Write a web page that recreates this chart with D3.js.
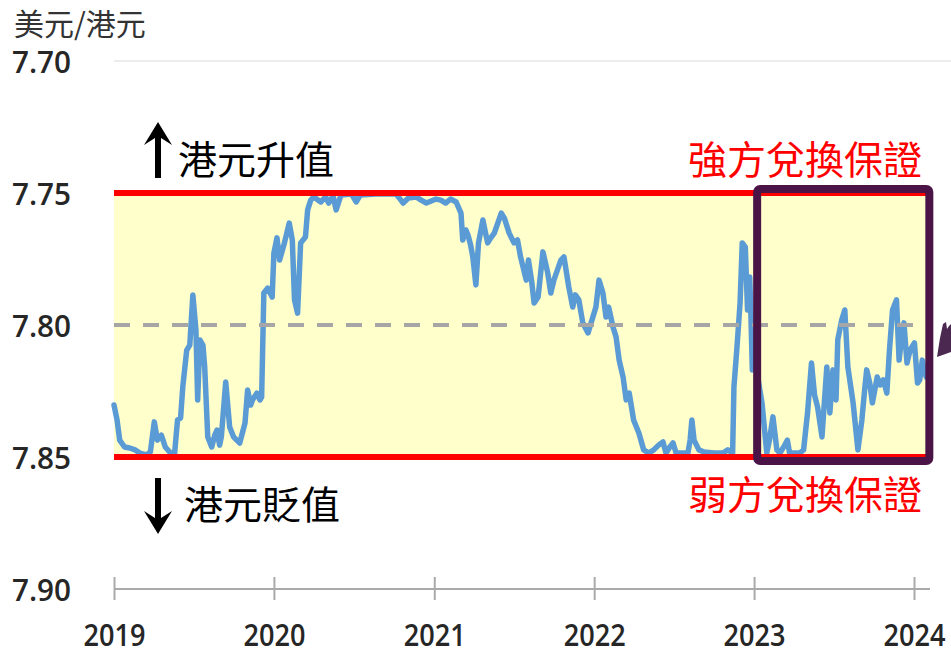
<!DOCTYPE html>
<html><head><meta charset="utf-8">
<script src="https://cdn.jsdelivr.net/npm/d3@7"></script>
<style>html,body{margin:0;padding:0;background:#fff;overflow:hidden}</style>
</head><body>
<svg id="c" width="951" height="650"></svg>
<script>
const dates = ["2019-01-01","2019-01-08","2019-01-14","2019-01-25","2019-02-06","2019-02-18","2019-03-01","2019-03-16","2019-03-25","2019-04-03","2019-04-10","2019-04-19","2019-04-28","2019-05-08","2019-05-19","2019-05-26","2019-06-02","2019-06-07","2019-06-16","2019-06-23","2019-06-30","2019-07-07","2019-07-11","2019-07-16","2019-07-23","2019-07-27","2019-08-03","2019-08-12","2019-08-19","2019-08-24","2019-08-30","2019-09-03","2019-09-13","2019-09-22","2019-10-01","2019-10-08","2019-10-15","2019-10-27","2019-11-02","2019-11-09","2019-11-13","2019-11-23","2019-11-30","2019-12-04","2019-12-09","2019-12-18","2019-12-28","2020-01-01","2020-01-08","2020-01-14","2020-01-25","2020-02-05","2020-02-12","2020-02-17","2020-02-24","2020-03-02","2020-03-13","2020-03-18","2020-03-25","2020-04-01","2020-04-17","2020-04-28","2020-05-05","2020-05-15","2020-05-22","2020-06-02","2020-06-26","2020-07-07","2020-07-16","2020-08-21","2020-10-06","2020-10-17","2020-10-22","2020-11-03","2020-11-21","2020-12-02","2020-12-14","2021-01-05","2021-01-16","2021-01-27","2021-02-07","2021-02-20","2021-03-03","2021-03-07","2021-03-14","2021-03-19","2021-03-25","2021-03-30","2021-04-06","2021-04-12","2021-04-22","2021-04-29","2021-05-03","2021-05-10","2021-05-18","2021-06-03","2021-06-10","2021-06-21","2021-07-02","2021-07-10","2021-07-17","2021-07-30","2021-08-04","2021-08-11","2021-08-17","2021-08-26","2021-09-06","2021-09-13","2021-09-17","2021-09-24","2021-10-01","2021-10-17","2021-10-24","2021-11-04","2021-11-13","2021-11-19","2021-11-27","2021-12-06","2021-12-18","2021-12-29","2022-01-05","2022-01-12","2022-01-21","2022-01-28","2022-02-03","2022-02-13","2022-02-20","2022-02-27","2022-03-08","2022-03-15","2022-03-22","2022-04-01","2022-04-13","2022-04-24","2022-05-06","2022-05-17","2022-05-28","2022-06-07","2022-06-14","2022-06-21","2022-06-30","2022-07-07","2022-07-23","2022-08-03","2022-08-08","2022-08-12","2022-08-17","2022-08-28","2022-09-09","2022-10-01","2022-10-22","2022-11-02","2022-11-13","2022-11-16","2022-11-23","2022-11-30","2022-12-05","2022-12-12","2022-12-17","2022-12-22","2022-12-24","2022-12-28","2023-01-03","2023-01-19","2023-01-30","2023-02-05","2023-02-13","2023-02-22","2023-03-01","2023-03-12","2023-03-18","2023-03-23","2023-04-15","2023-04-24","2023-05-03","2023-05-12","2023-05-19","2023-05-26","2023-06-05","2023-06-16","2023-06-23","2023-06-30","2023-07-07","2023-07-11","2023-07-20","2023-07-27","2023-08-03","2023-08-15","2023-08-26","2023-09-04","2023-09-11","2023-09-15","2023-09-22","2023-09-28","2023-10-09","2023-10-16","2023-10-23","2023-10-31","2023-11-06","2023-11-13","2023-11-22","2023-11-28","2023-12-05","2023-12-09","2023-12-16","2023-12-23","2024-01-02","2024-01-09","2024-01-14","2024-01-20","2024-01-25","2024-01-29"];
const rates = [7.8303,7.8360,7.8436,7.8462,7.8466,7.8473,7.8485,7.8492,7.8481,7.8367,7.8436,7.8417,7.8462,7.8481,7.8492,7.8360,7.8352,7.8235,7.8095,7.8076,7.7886,7.8019,7.8284,7.8057,7.8076,7.8159,7.8424,7.8462,7.8417,7.8398,7.8455,7.8424,7.8216,7.8386,7.8424,7.8436,7.8447,7.8371,7.8246,7.8303,7.8284,7.8258,7.8284,7.8273,7.7879,7.7860,7.7894,7.7727,7.7670,7.7754,7.7689,7.7614,7.7678,7.7905,7.7955,7.7689,7.7667,7.7564,7.7527,7.7515,7.7534,7.7515,7.7538,7.7511,7.7564,7.7508,7.7504,7.7534,7.7508,7.7504,7.7504,7.7527,7.7538,7.7519,7.7515,7.7527,7.7538,7.7523,7.7527,7.7538,7.7523,7.7534,7.7576,7.7678,7.7640,7.7659,7.7697,7.7742,7.7848,7.7689,7.7602,7.7659,7.7689,7.7670,7.7652,7.7576,7.7595,7.7652,7.7689,7.7678,7.7742,7.7830,7.7754,7.7830,7.7917,7.7894,7.7723,7.7773,7.7803,7.7879,7.7830,7.7754,7.7742,7.7856,7.7932,7.7886,7.7905,7.7992,7.8030,7.7970,7.7932,7.7830,7.7879,7.7970,7.7932,7.8008,7.8045,7.8133,7.8197,7.8284,7.8258,7.8360,7.8409,7.8473,7.8485,7.8473,7.8455,7.8443,7.8485,7.8466,7.8447,7.8485,7.8485,7.8485,7.8436,7.8360,7.8436,7.8473,7.8481,7.8485,7.8485,7.8473,7.8485,7.8235,7.8083,7.7917,7.7689,7.7705,7.7943,7.7818,7.7917,7.8170,7.8133,7.8295,7.8485,7.8436,7.8348,7.8473,7.8485,7.8455,7.8436,7.8485,7.8485,7.8473,7.8333,7.8144,7.8265,7.8311,7.8424,7.8159,7.8333,7.8170,7.8284,7.8057,7.7981,7.7943,7.8159,7.8295,7.8473,7.8360,7.8235,7.8170,7.8220,7.8295,7.8197,7.8227,7.8208,7.8258,7.8095,7.7943,7.7905,7.8133,7.8030,7.7992,7.8144,7.8095,7.8068,7.8220,7.8208,7.8133,7.8180,7.8197];
const yTicks = [7.70, 7.75, 7.80, 7.85, 7.90];
const xTickYears = ["2019","2020","2021","2022","2023","2024"];
const strongSide = 7.75, weakSide = 7.85, midRate = 7.80;
const bandEnd = "2024-02-04";
const boxStart = "2023-01-08", boxEnd = "2024-02-05";
const titleText = "美元/港元";
const upText = "港元升值", downText = "港元貶值";
const strongText = "強方兌換保證", weakText = "弱方兌換保證";

const parse = d3.timeParse("%Y-%m-%d");
const data = dates.map((d,i)=>({date: parse(d), v: rates[i]}));
const svg = d3.select("#c");
const x = d3.scaleTime().domain([parse("2019-01-01"), parse("2024-01-01")]).range([114, 914]);
const y = d3.scaleLinear().domain([7.70, 7.90]).range([61, 589]);
const numFont = "'Open Sans','Noto Sans',sans-serif";
const cjk = "'Noto Sans CJK TC','Noto Sans CJK SC',sans-serif";

// title
svg.append("text").attr("x",14).attr("y",35).attr("font-family",cjk).attr("font-size",30)
  .attr("fill","#333").text(titleText);

// top gridline
svg.append("line").attr("x1",114).attr("x2",951).attr("y1",y(7.70)).attr("y2",y(7.70))
  .attr("stroke","#d9d9d9").attr("stroke-width",1);

// band
const xL = x(parse("2019-01-01")), xR = x(parse(bandEnd));
svg.append("rect").attr("x",xL).attr("y",y(strongSide)).attr("width",xR-xL)
  .attr("height",y(weakSide)-y(strongSide)).attr("fill","#FFFFCC");

// line
const line = d3.line().x(d=>x(d.date)).y(d=>y(d.v));
svg.append("path").datum(data).attr("d",line).attr("fill","none")
  .attr("stroke","#5B9BD5").attr("stroke-width",5.5).attr("stroke-linejoin","round").attr("stroke-linecap","round");

// dashed mid
svg.append("line").attr("x1",xL).attr("x2",921).attr("y1",y(midRate)).attr("y2",y(midRate))
  .attr("stroke","#a6a6a6").attr("stroke-width",4).attr("stroke-dasharray","16,13");

// red bounds
[strongSide, weakSide].forEach(v=>{
  svg.append("line").attr("x1",xL).attr("x2",xR).attr("y1",y(v)).attr("y2",y(v))
    .attr("stroke","#FF0000").attr("stroke-width",6);
});

// purple box
const bx1 = x(parse(boxStart)), bx2 = x(parse(boxEnd));
svg.append("rect").attr("x",bx1).attr("y",y(strongSide)-4).attr("width",bx2-bx1)
  .attr("height",y(weakSide)-y(strongSide)+8).attr("rx",3)
  .attr("fill","none").attr("stroke","#4B1447").attr("stroke-width",8);

// partial arrow at right edge
svg.append("path").attr("d","M937,357 L940,338 L943,324 L946,322 L947,329 L949,326 L951,324 L951,352 Z")
  .attr("fill","#4a2850");

// y axis labels
const yAxis = d3.axisLeft(y).tickValues(yTicks).tickFormat(d3.format(".2f")).tickSize(0);
const gy = svg.append("g").call(yAxis);
gy.select(".domain").remove();
gy.selectAll("text").attr("x",12).attr("dy","0.36em").attr("text-anchor","start")
  .attr("font-family",numFont).attr("font-size",31).attr("font-weight",600).attr("fill","#262626")
  .attr("textLength",59).attr("lengthAdjust","spacingAndGlyphs");

// x axis
const xAxis = d3.axisBottom(x).tickValues(xTickYears.map(s=>parse(s+"-01-01")))
  .tickFormat(d3.timeFormat("%Y")).tickSize(11).tickPadding(0);
const gx = svg.append("g").attr("transform",`translate(0,${y(7.90)})`).call(xAxis);
gx.select(".domain").attr("d",`M${xL},0H930`).attr("stroke","#aaaaaa").attr("stroke-width",2);
gx.selectAll(".tick line").attr("y1",-12).attr("y2",11).attr("stroke","#aaaaaa").attr("stroke-width",2);
gx.selectAll(".tick text").attr("y",57).attr("dy",0)
  .attr("font-family",numFont).attr("font-size",31).attr("font-weight",600).attr("fill","#262626")
  .attr("textLength",62).attr("lengthAdjust","spacingAndGlyphs");

// arrows
svg.append("path").attr("d","M158,122 L172,145 L161,138 L161,178 L155,178 L155,138 L144,145 Z").attr("fill","#000");
svg.append("path").attr("d","M158,534 L172,511 L161,518 L161,478 L155,478 L155,518 L144,511 Z").attr("fill","#000");

svg.append("text").attr("x",178).attr("y",174).attr("font-family",cjk).attr("font-size",39)
  .attr("fill","#000").text(upText);
svg.append("text").attr("x",184).attr("y",519).attr("font-family",cjk).attr("font-size",39)
  .attr("fill","#000").text(downText);
svg.append("text").attr("x",922).attr("y",174).attr("text-anchor","end").attr("font-family",cjk).attr("font-size",39)
  .attr("fill","#FF0000").text(strongText);
svg.append("text").attr("x",922).attr("y",509).attr("text-anchor","end").attr("font-family",cjk).attr("font-size",39)
  .attr("fill","#FF0000").text(weakText);
</script>
</body></html>
